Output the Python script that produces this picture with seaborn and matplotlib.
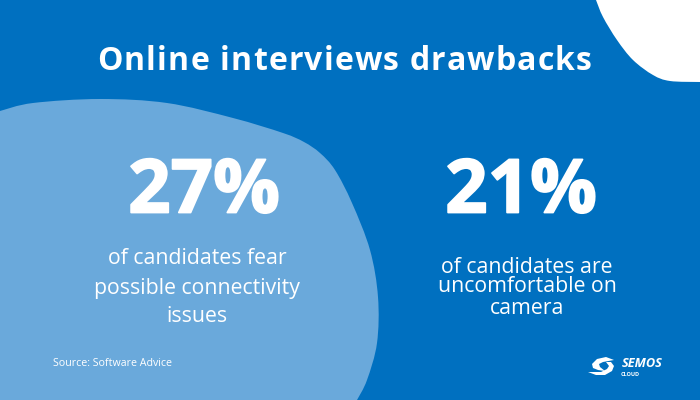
#%%
import matplotlib
matplotlib.use('Agg')
import matplotlib.pyplot as plt
import matplotlib.patheffects as pe
import seaborn as sns
from matplotlib.patches import PathPatch
from matplotlib.path import Path

title = 'Online interviews drawbacks'
stat_left = '27%'
stat_right = '21%'
lines_left = ['of candidates fear', 'possible connectivity', 'issues']
lines_right = ['of candidates are', 'uncomfortable on', 'camera']
source = 'Source: Software Advice'

# outlines, in pixels
blob_x = [0, 33, 100, 167, 233, 283, 304, 320, 335, 352, 370, 378, 377, 367, 357]
blob_y = [111, 103, 99, 103, 118, 133, 142, 153, 170, 203, 250, 297, 343, 380, 400]
corner_x = [596, 603, 617, 633, 653, 670, 700]
corner_y = [0, 17, 40, 60, 75, 81, 82]
swirl_top_x = [614, 606, 597, 592, 593, 598, 605, 600, 599, 603]
swirl_top_y = [360, 357, 359, 364, 368, 370, 371, 367, 364, 362]
swirl_bot_x = [588, 596, 605, 612, 614, 611, 606, 609, 607, 601, 593]
swirl_bot_y = [372, 375, 375, 371, 366, 362, 362, 366, 369, 372, 372]

BLUE = '#0070C0'
LIGHT = '#6AA9DB'

sns.set_style('white')
plt.rcParams['font.family'] = ['Open Sans', 'DejaVu Sans']


def smooth_path(xs, ys, close_pts):
    # bezier through the points, then straight along the picture edge
    pts = list(zip(xs, ys))
    verts = [pts[0]]
    codes = [Path.MOVETO]
    for i in range(len(pts) - 1):
        p0 = pts[max(i - 1, 0)]
        p1 = pts[i]
        p2 = pts[i + 1]
        p3 = pts[min(i + 2, len(pts) - 1)]
        c1 = (p1[0] + (p2[0] - p0[0]) / 6, p1[1] + (p2[1] - p0[1]) / 6)
        c2 = (p2[0] - (p3[0] - p1[0]) / 6, p2[1] - (p3[1] - p1[1]) / 6)
        verts += [c1, c2, p2]
        codes += [Path.CURVE4] * 3
    for p in close_pts:
        verts.append(p)
        codes.append(Path.LINETO)
    verts.append(pts[0])
    codes.append(Path.CLOSEPOLY)
    return Path(verts, codes)


def spaced_text(ax, fig, s, x0, y, size, weight, gap):
    # no letter-spacing in matplotlib, so place each letter
    r = fig.canvas.get_renderer()
    for i in range(len(s)):
        w0 = ax.text(0, 0, s[:i] + '|', fontsize=size, fontweight=weight)
        w1 = ax.text(0, 0, '|', fontsize=size, fontweight=weight)
        adv = w0.get_window_extent(r).width - w1.get_window_extent(r).width
        w0.remove()
        w1.remove()
        ax.text(x0 + adv + gap * i, y, s[i], color='white', fontsize=size,
                fontweight=weight, ha='left', va='baseline')


#%%
fig, ax = plt.subplots(figsize=(7, 4), dpi=100)
fig.subplots_adjust(0, 0, 1, 1)
fig.patch.set_facecolor(BLUE)
ax.set_facecolor(BLUE)
ax.set_xlim(0, 700)
ax.set_ylim(400, 0)
ax.axis('off')

ax.add_patch(PathPatch(smooth_path(blob_x, blob_y, [(0, 400)]), fc=LIGHT, ec='none'))
ax.add_patch(PathPatch(smooth_path(corner_x, corner_y, [(700, 0)]), fc='white', ec='none'))

spaced_text(ax, fig, title, 97, 70.5, 23, 'bold', 1.23)

# the numbers are heavier than Open Sans Bold, a thin stroke makes up for it
heavy = [pe.withStroke(linewidth=1.3, foreground='white')]
ax.text(204, 212.5, stat_left, color='white', fontsize=53.5, fontweight='bold',
        ha='center', va='baseline', path_effects=heavy)
ax.text(521, 212.5, stat_right, color='white', fontsize=53.5, fontweight='bold',
        ha='center', va='baseline', path_effects=heavy)

for txt, y in zip(lines_left, [264, 294, 322]):
    ax.text(197, y, txt, color='white', fontsize=15.3, ha='center', va='baseline')
for txt, y in zip(lines_right, [273, 292, 314]):
    ax.text(527, y, txt, color='white', fontsize=15.3, ha='center', va='baseline')

ax.text(53, 366, source, color='white', fontsize=7.7, ha='left', va='baseline')

# logo
ax.fill(swirl_top_x, swirl_top_y, color='white', lw=0)
ax.fill(swirl_bot_x, swirl_bot_y, color='white', lw=0)
ax.text(622, 367, 'SEMOS', color='white', fontsize=9.2, fontweight='bold',
        fontstyle='italic', ha='left', va='baseline')
ax.text(621, 376, 'CLOUD', color='white', fontsize=4, fontweight='bold',
        ha='left', va='baseline')

fig.savefig('out.png', dpi=100, facecolor=BLUE)
